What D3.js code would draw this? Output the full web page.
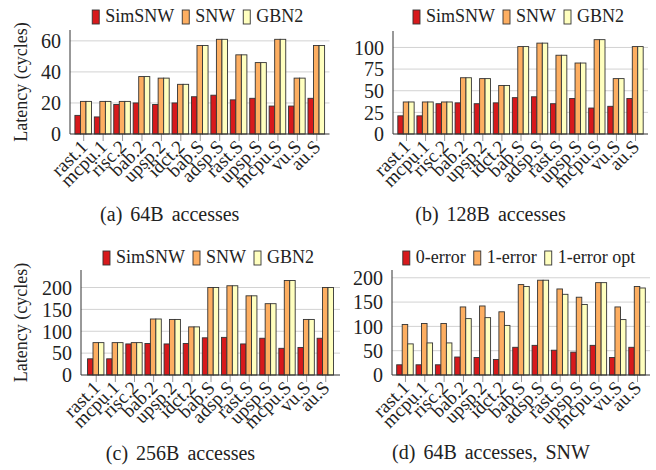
<!DOCTYPE html>
<html><head><meta charset="utf-8">
<script src="https://cdn.jsdelivr.net/npm/d3@7"></script>
<style>
body{margin:0;background:#fff;}
svg, svg text{font-family:"Liberation Serif","Times New Roman",serif !important;}
</style></head>
<body>
<svg id="chart" width="656" height="470"></svg>
<script>
const categories = ["rast.1","mcpu.1","risc.2","bab.2","upsp.2","idct.2","bab.S","adsp.S","rast.S","upsp.S","mcpu.S","vu.S","au.S"];

const simsnw64 = [12,11,19,20,19,20,24,25,22,23,18,18,23];
const snw64    = [21,21,21,37,36,32,57,61,51,46,61,36,57];
const gbn64    = [21,21,21,37,36,32,57,61,51,46,61,36,57];

const simsnw128 = [21,21,35,36,35,36,42,43,35,41,30,32,41];
const snw128    = [37,37,37,65,64,56,101,105,91,82,109,64,101];
const gbn128    = [37,37,37,65,64,56,101,105,91,82,109,64,101];

const simsnw256 = [37,37,71,72,71,72,85,86,71,84,61,63,84];
const snw256    = [74,74,74,128,127,110,200,204,181,163,216,127,200];
const gbn256    = [74,74,74,128,127,110,200,204,181,163,216,127,200];

const err0    = [21,21,21,37,36,32,57,61,51,47,61,36,57];
const err1    = [104,106,106,140,142,130,186,195,177,160,190,140,182];
const err1opt = [64,66,66,116,118,102,182,195,166,145,190,114,179];

const seriesNamesABC = ["SimSNW","SNW","GBN2"];
const seriesNamesD = ["0-error","1-error","1-error opt"];

const yTicksA = [0,20,40,60];
const yTicksB = [0,25,50,75,100];
const yTicksC = [0,50,100,150,200];
const yTicksD = [0,50,100,150,200];

const colors = ["#d7191c","#fdae61","#ffffbf"];

const panels = [
  {series:[simsnw64,snw64,gbn64], names:seriesNamesABC, ticks:yTicksA, ymax:67,
   x0:70, x1:329.5, top:30, base:134, pad:0.68, legY:22, title:"(a) 64B accesses", tY:221, ylab:true},
  {series:[simsnw128,snw128,gbn128], names:seriesNamesABC, ticks:yTicksB, ymax:119,
   x0:393, x1:648, top:31, base:134, pad:0.68, legY:22, title:"(b) 128B accesses", tY:221, ylab:false},
  {series:[simsnw256,snw256,gbn256], names:seriesNamesABC, ticks:yTicksC, ymax:240,
   x0:81, x1:340, top:270, base:375, pad:0.77, legY:263, title:"(c) 256B accesses", tY:460, ylab:true},
  {series:[err0,err1,err1opt], names:seriesNamesD, ticks:yTicksD, ymax:216,
   x0:392, x1:650, top:270, base:375, pad:0.67, legY:263, title:"(d) 64B accesses, SNW", tY:459, ylab:false}
];

const svg = d3.select("#chart");

panels.forEach(p => {
  const g = svg.append("g");
  const x = d3.scalePoint().domain(categories).range([p.x0, p.x1]).padding(p.pad);
  const y = d3.scaleLinear().domain([0, p.ymax]).range([p.base, p.top]);
  const step = x.step();
  const bw = step * 0.285;

  // grid lines
  g.append("g").selectAll("line").data(p.ticks.filter(t => t > 0)).join("line")
    .attr("x1", p.x0).attr("x2", p.x1)
    .attr("y1", d => y(d)).attr("y2", d => y(d))
    .attr("stroke", "#d2d2d2").attr("stroke-width", 1);

  // y axis
  const yAxis = d3.axisLeft(y).tickValues(p.ticks).tickSize(0).tickPadding(9);
  const ya = g.append("g").attr("transform", `translate(${p.x0},0)`).call(yAxis)
    .attr("font-family", null).attr("font-size", null);
  ya.select(".domain").remove();
  ya.selectAll("text").attr("font-size", 20).attr("fill", "#222").attr("dy", "0.34em");
  g.append("line").attr("x1", p.x0).attr("x2", p.x0).attr("y1", p.top).attr("y2", p.base)
    .attr("stroke", "#333").attr("stroke-width", 1);

  // x axis
  const xAxis = d3.axisBottom(x).tickSize(7).tickPadding(3);
  const xa = g.append("g").attr("transform", `translate(0,${p.base})`).call(xAxis)
    .attr("font-family", null).attr("font-size", null);
  xa.select(".domain").remove();
  xa.selectAll(".tick line").attr("stroke", "#999").attr("stroke-width", 1);
  xa.selectAll("text")
    .attr("font-size", 19).attr("fill", "#222")
    .attr("text-anchor", "end").attr("dy", null).attr("y", 0)
    .attr("transform", "translate(5,14) rotate(-45)");

  // bars
  p.series.forEach((vals, si) => {
    g.append("g").selectAll("rect").data(vals).join("rect")
      .attr("x", (d, i) => x(categories[i]) + (si - 1) * bw - bw / 2)
      .attr("width", bw)
      .attr("y", d => y(d))
      .attr("height", d => y(0) - y(d))
      .attr("fill", colors[si])
      .attr("stroke", "#333").attr("stroke-width", 0.9);
  });

  g.append("line").attr("x1", p.x0).attr("x2", p.x1).attr("y1", p.base).attr("y2", p.base)
    .attr("stroke", "#333").attr("stroke-width", 1);

  // legend
  const leg = g.append("g");
  let cx = 0;
  p.names.forEach((nm, si) => {
    leg.append("rect").attr("x", cx).attr("y", p.legY - 12).attr("width", 7).attr("height", 14)
      .attr("fill", colors[si]).attr("stroke", "#333").attr("stroke-width", 0.9);
    const t = leg.append("text").attr("x", cx + 13).attr("y", p.legY).text(nm)
      .attr("font-size", 18).attr("fill", "#222");
    cx += 13 + t.node().getComputedTextLength() + 8;
  });
  const legW = cx - 8;
  leg.attr("transform", `translate(${(p.x0 + p.x1) / 2 - legW / 2 - 2},0)`);

  // title
  g.append("text").attr("x", (p.x0 + p.x1) / 2 - 30).attr("y", p.tY)
    .attr("text-anchor", "middle").attr("font-size", 20).attr("word-spacing", 3)
    .attr("fill", "#222").text(p.title);

  // y label
  if (p.ylab) {
    g.append("text").attr("transform", `translate(27,${(p.top + p.base) / 2}) rotate(-90)`)
      .attr("text-anchor", "middle").attr("font-size", 18).attr("fill", "#222")
      .text("Latency (cycles)");
  }
});
</script>
</body></html>
